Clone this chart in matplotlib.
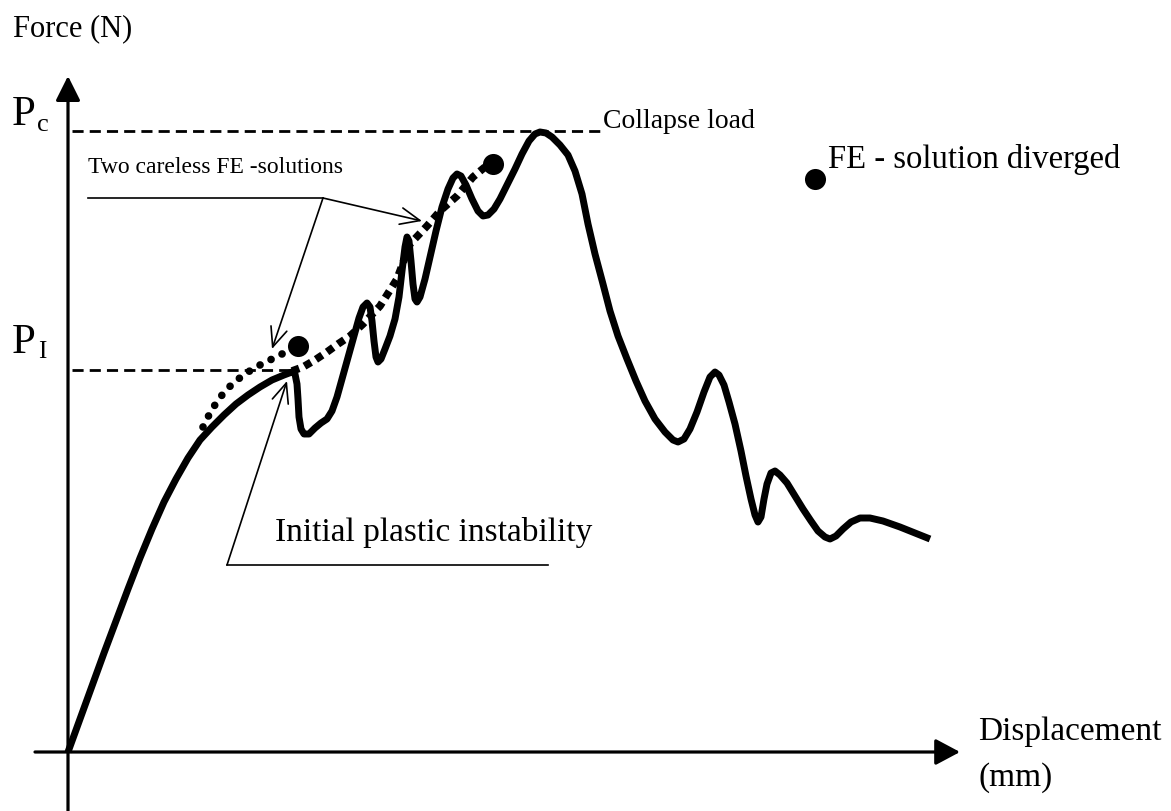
import matplotlib
matplotlib.use("Agg")
import matplotlib.pyplot as plt

# ---- data (displacement / force in drawing units, origin at axes crossing) ----
OX, OY = 68, 753  # origin location in the source picture (pixels)

def to_disp(px):
    return [p - OX for p in px]

def to_force(py):
    return [OY - p for p in py]

# main load-displacement curve (pixel coordinates)
main_px = [68, 80, 92, 104, 116, 128, 140, 152, 164, 176, 188, 200, 212, 224, 236,
           248, 260, 272, 284, 292, 295, 297, 298, 299, 301, 304, 309, 315, 321, 327,
           332, 337, 342, 348, 354, 359, 363, 367, 370, 372, 374, 376, 378, 381, 385,
           390, 395, 399, 402, 405, 407, 409, 411, 413, 415, 417, 420, 425, 430, 436,
           442, 448, 453, 457, 461, 466, 472, 478, 483, 488, 494, 500, 507, 515, 522,
           529, 535, 540, 546, 552, 560, 568, 575, 582, 588, 595, 603, 610, 618, 627,
           636, 645, 655, 665, 673, 678, 684, 690, 697, 704, 710, 715, 719, 724, 729,
           735, 741, 746, 751, 755, 758, 761, 764, 767, 771, 775, 780, 787, 795, 803,
           811, 818, 825, 830, 836, 843, 851, 860, 870, 883, 900, 915, 930]
main_py = [753, 720, 687, 654, 622, 590, 559, 530, 503, 480, 459, 441, 428, 416, 405,
           396, 388, 381, 376, 373, 375, 385, 400, 418, 430, 435, 435, 429, 424, 420,
           412, 398, 380, 358, 337, 319, 308, 304, 308, 322, 342, 358, 363, 360, 350,
           337, 320, 298, 272, 248, 238, 242, 262, 285, 300, 303, 298, 280, 258, 232,
           208, 190, 179, 175, 177, 186, 200, 212, 217, 216, 210, 200, 186, 170, 155,
           142, 135, 133, 134, 138, 146, 156, 172, 195, 225, 255, 285, 312, 337, 360,
           382, 402, 420, 433, 441, 443, 440, 430, 413, 393, 378, 373, 376, 386, 403,
           425, 452, 477, 500, 516, 523, 518, 500, 485, 474, 472, 476, 484, 497, 510,
           522, 532, 538, 540, 537, 530, 523, 519, 519, 522, 528, 534, 540]

# careless FE solution 1 (round dots)
fe1_px = [203, 210, 218, 227, 237, 248, 260, 272, 284]
fe1_py = [428, 414, 401, 390, 381, 373, 366, 360, 354]

# careless FE solution 2 (square dots)
fe2_px = [292, 303, 315, 327, 338, 350, 363, 380, 397, 410, 427, 440, 457, 473, 485]
fe2_py = [372, 368, 361, 353, 345, 337, 325, 307, 280, 245, 227, 212, 197, 178, 168]

# solution end points (big dots)
end_px = [298, 493, 815]
end_py = [347, 165, 180]

P_C = OY - 132   # collapse load level
P_I = OY - 371   # initial plastic instability level
PC_DISP_END = 600 - OX
PI_DISP_END = 292 - OX

FONT = ["Liberation Serif", "DejaVu Serif"]

fig = plt.figure(figsize=(11.71, 8.12), dpi=100)
ax = fig.add_axes([0, 0, 1, 1])
ax.set_xlim(-OX, 1171 - OX)
ax.set_ylim(OY - 812, OY)
ax.axis("off")

# axes with arrows
ax.annotate("", xy=(0, OY - 77), xytext=(0, OY - 812),
            arrowprops=dict(arrowstyle="-|>,head_length=15,head_width=7.5",
                            mutation_scale=1, lw=2.3, color="black",
                            shrinkA=0, shrinkB=0))
ax.annotate("", xy=(960 - OX, 0), xytext=(35 - OX, 0),
            arrowprops=dict(arrowstyle="-|>,head_length=15,head_width=8",
                            mutation_scale=1, lw=2.3, color="black",
                            shrinkA=0, shrinkB=0))

# dashed reference levels
ax.plot([4, PC_DISP_END], [P_C, P_C], color="black", lw=2.0, dashes=(4, 2.2))
ax.plot([4, PI_DISP_END], [P_I, P_I], color="black", lw=2.0, dashes=(4, 2.2))

# main curve
ax.plot(to_disp(main_px), to_force(main_py), color="black", lw=5.0,
        solid_joinstyle="round", solid_capstyle="butt", zorder=3)

# careless FE solutions
ax.plot(to_disp(fe1_px), to_force(fe1_py), color="black", lw=5.5,
        linestyle=(0, (0.01, 1.6)), dash_capstyle="round", zorder=4)
ax.plot(to_disp(fe2_px), to_force(fe2_py), color="black", lw=5.5,
        linestyle=(0, (1.0, 0.75)), dash_capstyle="butt", zorder=4)
ax.scatter(to_disp(end_px), to_force(end_py), s=230, color="black", zorder=5,
           linewidths=0)

# annotation lines
thin = dict(color="black", lw=1.2)
ax.plot([88 - OX, 323 - OX], [OY - 199, OY - 199], **thin)
arrow_open = dict(arrowstyle="->,head_length=14,head_width=6", mutation_scale=1,
                  lw=1.2, color="black", shrinkA=0, shrinkB=0)
ax.annotate("", xy=(422 - OX, OY - 222), xytext=(323 - OX, OY - 199),
            arrowprops=arrow_open)
ax.annotate("", xy=(272 - OX, OY - 350), xytext=(323 - OX, OY - 199),
            arrowprops=arrow_open)
ax.plot([227 - OX, 548 - OX], [OY - 566, OY - 566], **thin)
ax.annotate("", xy=(287 - OX, OY - 382), xytext=(227 - OX, OY - 566),
            arrowprops=arrow_open)

# texts
def txt(x, y, s, size):
    ax.text(x - OX, OY - y, s, fontsize=size, family=FONT, ha="left", va="baseline")

txt(13, 36, "Force (N)", 22)
txt(12, 125, "P", 31)
txt(37, 131, "c", 19)
txt(12, 353, "P", 31)
txt(38, 358, "I", 18)
txt(603, 128, "Collapse load", 20)
txt(88, 173, "Two careless FE -solutions", 17)
txt(828, 168, "FE - solution diverged", 23.5)
txt(275, 541, "Initial plastic instability", 24)
txt(978, 740, "Displacement", 24)
txt(978, 786, "(mm)", 24)

fig.savefig("out.png", dpi=100)
